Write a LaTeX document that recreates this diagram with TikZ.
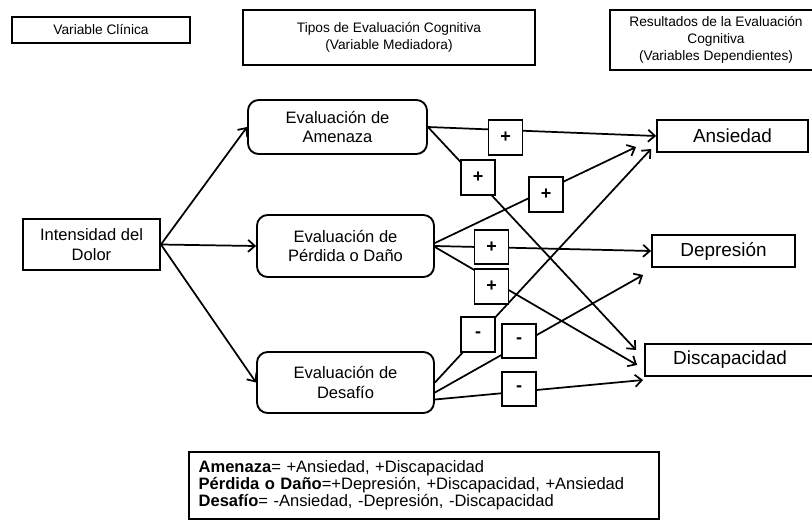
\documentclass[tikz,border=0pt]{standalone}
\usepackage{fontspec}
\setmainfont{Liberation Sans}
\usetikzlibrary{arrows.meta,calc}
\begin{document}
\begin{tikzpicture}[x=0.75pt,y=-0.75pt,
  hdrbox/.style={draw, line width=1.6pt, inner sep=0pt, align=center,
    font=\fontsize{10.3pt}{13pt}\selectfont},
  evalbox/.style={draw, rounded corners=8pt, line width=1.4pt, inner sep=0pt,
    align=center, font=\fontsize{12.4pt}{14.6pt}\selectfont},
  srcbox/.style={draw, line width=1.4pt, inner sep=0pt, align=center,
    font=\fontsize{12.4pt}{14.8pt}\selectfont},
  outbox/.style={draw, line width=1.4pt, inner sep=0pt, align=center,
    font=\fontsize{14.2pt}{16pt}\selectfont},
  signbox/.style={draw, fill=white, line width=1.4pt, inner sep=0pt,
    minimum width=25.5pt, minimum height=26pt,
    font=\bfseries\fontsize{13.5pt}{14pt}\selectfont},
  link/.style={line width=1.3pt, -{Straight Barb[length=5pt,width=9pt,line width=1.3pt]}},
  legendbox/.style={draw, line width=1.4pt, inner xsep=7pt, inner ysep=0pt,
    align=left, font=\fontsize{12.4pt}{12.9pt}\selectfont}
]
\useasboundingbox (0,0) rectangle (812,522);

% column headings
\node[hdrbox, minimum width=133.5pt, minimum height=19.5pt] (hclin) at (101,30) {Variable Clínica};
\node[hdrbox, minimum width=219pt, minimum height=41pt] (hmed) at (389,37.5)
  {Tipos de Evaluación Cognitiva\\(Variable Mediadora)};
\node[hdrbox, minimum width=159pt, minimum height=45pt] (hres) at (716,40)
  {Resultados de la Evaluación\\Cognitiva\\(Variables Dependientes)};

% clinical variable
\node[srcbox, minimum width=102.75pt, minimum height=38.25pt] (dolor) at (91.5,244.5)
  {Intensidad del\\Dolor};

% cognitive appraisals
\node[evalbox, minimum width=134.25pt, minimum height=40.5pt] (amen) at (337.5,127)
  {Evaluación de\\Amenaza};
\node[evalbox, minimum width=132.75pt, minimum height=46.5pt] (perd) at (345.5,246)
  {Evaluación de\\Pérdida o Daño};
\node[evalbox, minimum width=132.75pt, minimum height=45.75pt] (desaf) at (345.5,382.5)
  {Evaluación de\\Desafío};

% outcomes
\node[outbox, minimum width=113.25pt, minimum height=24pt] (ans) at (732.5,136) {Ansiedad};
\node[outbox, minimum width=107.25pt, minimum height=24pt] (dep) at (723.5,251) {Depresión};
\node[outbox, minimum width=127.5pt, minimum height=24pt] (disc) at (730,360) {Discapacidad};

% pain intensity to appraisals
\draw[link] (dolor.east) -- (amen.west);
\draw[link] (dolor.east) -- (perd.west);
\draw[link] (dolor.east) -- (desaf.west);

% threat
\draw[link] (amen.east) -- (ans.west);
\draw[link] (amen.east) -- ($(disc.west)+(-8,-10)$);

% loss or harm
\draw[link] ($(perd.east)+(0,-3)$) -- ($(ans.west)+(-20,11)$);
\draw[link] (perd.east) -- (dep.west);
\draw[link] ($(perd.east)+(0,1)$) -- ($(disc.west)+(-7,5)$);

% challenge
\draw[link] (desaf.east) -- ($(ans.west)+(-5,13)$);
\draw[link] ($(desaf.east)+(0,10)$) -- ($(dep.west)+(-8,24)$);
\draw[link] ($(desaf.east)+(0,17)$) -- ($(disc.west)+(-1,20)$);

% signs of the paths
\node[signbox] (s1) at (505.5,137.5) {+};
\node[signbox] (s2) at (478,177.5) {+};
\node[signbox] (s3) at (546,194.5) {+};
\node[signbox] (s4) at (491.5,247) {+};
\node[signbox] (s5) at (491.5,286.5) {+};
\node[signbox] (s6) at (478,334.5) {-};
\node[signbox] (s7) at (519,341) {-};
\node[signbox] (s8) at (519,389) {-};

% summary
\node[legendbox, text width=338pt, minimum height=50.5pt] (legend) at (424,485.5)
  {\textbf{Amenaza}= +Ansiedad, +Discapacidad\\
   \textbf{Pérdida o Daño}=+Depresión, +Discapacidad, +Ansiedad\\
   \textbf{Desafío}= -Ansiedad, -Depresión, -Discapacidad};
\end{tikzpicture}
\end{document}
